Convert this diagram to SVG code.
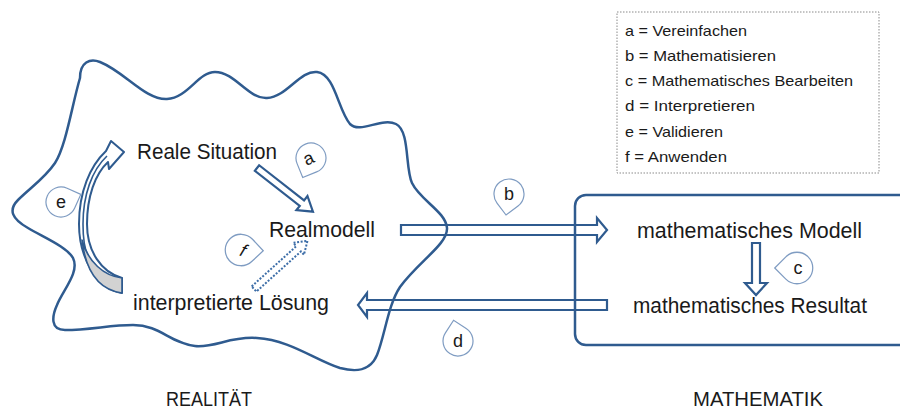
<svg xmlns="http://www.w3.org/2000/svg" width="900" height="411" viewBox="0 0 900 411">
<defs>
<style>
.ln{fill:none;stroke:#2f5b8f;stroke-width:2.5;stroke-linejoin:round}
.ar{fill:none;stroke:#2f5b8f;stroke-width:2.2;stroke-linejoin:miter}
.t{font-family:"Liberation Sans",Arial,sans-serif;font-size:22px;fill:#1a1a1a}
.lg{font-family:"Liberation Sans",Arial,sans-serif;font-size:15px;fill:#1a1a1a}
.tl{font-family:"Liberation Sans",Arial,sans-serif;font-size:18px;fill:#1a1a1a;text-anchor:middle}
.drop{fill:#fff;stroke:#7f9cc2;stroke-width:1.2}
</style>
<path id="tear" d="M15,0 A15 15 0 1 1 0,-15 L15,-15 Z"/>
</defs>
<rect width="900" height="411" fill="#fff"/>

<g id="realitaet">
<path class="ln" d="M80,78 C80,62 90,58 100,62 C125,72 145,100 167,99 C188,98 198,72 215,72 C235,72 248,99 267,98 C287,97 300,70 317,72 C335,74 338,110 350,124 C360,134 382,117 396,124 C410,131 405,168 412,183 C420,200 446,212 447,228 C448,244 418,262 400,287 C388,305 385,335 377,355 C370,372 355,372 340,368 C315,360 290,340 257,338 C230,336 215,348 195,346 C170,343 160,325 133,325 C110,325 90,330 65,330 C50,330 52,316 57,305 C63,290 80,272 73,258 C67,247 45,238 28,228 C12,219 8,210 18,200 C30,188 45,178 55,163 C66,146 72,105 80,78 Z"/>
<text class="t" x="166" y="406" textLength="86" lengthAdjust="spacingAndGlyphs" style="font-size:20px">REALITÄT</text>
</g>

<g id="mathematik">
<rect class="ln" x="575" y="195" width="345" height="150" rx="11"/>
<text class="t" x="693" y="406" textLength="130" lengthAdjust="spacingAndGlyphs" style="font-size:20px">MATHEMATIK</text>
</g>

<g id="legend">
<rect x="617" y="12" width="262" height="161" fill="#fff" stroke="#8a8a8a" stroke-width="1" stroke-dasharray="1.5,1.5"/>
<text class="lg" x="625" y="36" textLength="122" lengthAdjust="spacingAndGlyphs">a = Vereinfachen</text>
<text class="lg" x="625" y="61" textLength="151" lengthAdjust="spacingAndGlyphs">b = Mathematisieren</text>
<text class="lg" x="625" y="86" textLength="228" lengthAdjust="spacingAndGlyphs">c = Mathematisches Bearbeiten</text>
<text class="lg" x="625" y="111" textLength="130" lengthAdjust="spacingAndGlyphs">d = Interpretieren</text>
<text class="lg" x="625" y="137" textLength="98" lengthAdjust="spacingAndGlyphs">e = Validieren</text>
<text class="lg" x="625" y="162" textLength="102" lengthAdjust="spacingAndGlyphs">f = Anwenden</text>
</g>

<g id="reale-situation"><text class="t" x="137" y="159" textLength="140" lengthAdjust="spacingAndGlyphs">Reale Situation</text></g>
<g id="realmodell"><text class="t" x="269" y="237" textLength="106" lengthAdjust="spacingAndGlyphs">Realmodell</text></g>
<g id="interpretierte-loesung"><text class="t" x="133" y="310" textLength="196" lengthAdjust="spacingAndGlyphs">interpretierte Lösung</text></g>
<g id="mathematisches-modell"><text class="t" x="637" y="238" textLength="225" lengthAdjust="spacingAndGlyphs">mathematisches Modell</text></g>
<g id="mathematisches-resultat"><text class="t" x="633" y="313" textLength="234" lengthAdjust="spacingAndGlyphs">mathematisches Resultat</text></g>

<g id="connectors">
<path class="ar" d="M401,225 H597 V218 L607,230 L597,242 V235 H401 Z"/>
<path class="ar" d="M607,300 H367 V293 L358,305 L367,317 V310 H607 Z"/>
<path class="ar" d="M752,243 H760 V283 H767 L756,295 L745,283 H752 Z"/>
<path class="ar" transform="translate(257,168) rotate(38)" d="M0,-3.5 H57 V-9 L71,0 L57,9 V3.5 H0 Z"/>
<path fill="none" stroke="#3d6ea8" stroke-width="2" stroke-dasharray="2,1.6" transform="translate(254,289) rotate(-42)" d="M0,-3.5 H60 V-8 L72,0 L60,8 V3.5 H0 Z"/>
<path fill="#fff" stroke="#2f5b8f" stroke-width="2" stroke-linejoin="round" d="M122,278 L122,293 C97,289 79,258 79,224 C79,192 90,166 106,151 L111,141 L124,152 L109,169 L108,162 C95,174 87,197 87,224 C87,251 101,272 122,278 Z"/>
<path fill="none" stroke="#2f5b8f" stroke-width="1.6" d="M107,156 C92,170 83,195 83,224 C83,240 85,250 88,256"/>
<path fill="#d2d2d2" stroke="#2f5b8f" stroke-width="1.6" stroke-linejoin="round" d="M122,278 L122,293 C100,290 86,274 82,240 C88,262 104,276 122,278 Z"/>
</g>

<g id="label-a"><use href="#tear" class="drop" transform="translate(311,158) rotate(158)"/><text class="tl" transform="translate(311,164) rotate(-25)">a</text></g>
<g id="label-b"><use href="#tear" class="drop" transform="translate(509,194) rotate(143)"/><text class="tl" x="509" y="200">b</text></g>
<g id="label-c"><use href="#tear" class="drop" transform="translate(797,268) rotate(225) scale(1.05)"/><text class="tl" x="798" y="274">c</text></g>
<g id="label-d"><use href="#tear" class="drop" transform="translate(458,341) rotate(-57)"/><text class="tl" x="458" y="347">d</text></g>
<g id="label-e"><use href="#tear" class="drop" transform="translate(61,202) rotate(24)"/><text class="tl" x="61" y="208">e</text></g>
<g id="label-f"><use href="#tear" class="drop" transform="translate(241,250) rotate(47) scale(1.05)"/><text class="tl" style="font-style:italic" transform="translate(241,256) rotate(20)">f</text></g>
</svg>
